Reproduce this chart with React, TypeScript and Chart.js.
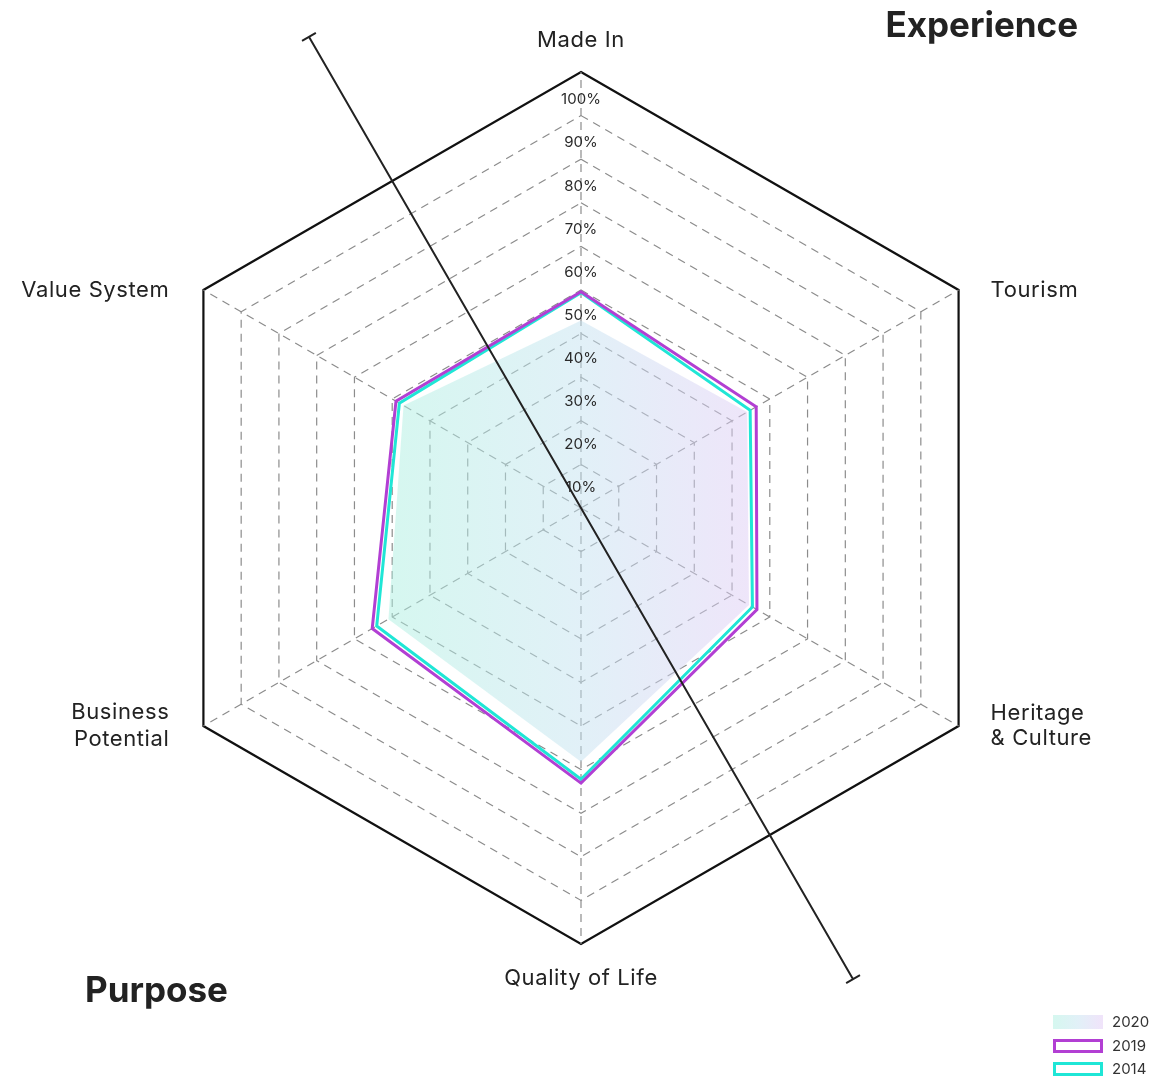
import { useEffect, useRef } from "react";
import { Chart, registerables } from "chart.js";

Chart.register(...registerables);

const categories: string[][] = [
  ["Made In"],
  ["Tourism"],
  ["Heritage", "& Culture"],
  ["Quality of Life"],
  ["Business", "Potential"],
  ["Value System"],
];
const values2020 = [43, 44, 44.5, 58.2, 51, 47];
const values2019 = [49.6, 46.4, 46.6, 63.1, 55.3, 49];
const values2014 = [49.4, 44.8, 45.4, 62.2, 54.1, 48.1];
const tickValues = [10, 20, 30, 40, 50, 60, 70, 80, 90, 100];
const seriesLabels = ["2020", "2019", "2014"];
const groupLabels = ["Experience", "Purpose"];

const FONT = "Inter, 'Noto Sans', sans-serif";
const PURPLE = "#b23fd3";
const CYAN = "#1fe6d6";

function makeFill(ctx: CanvasRenderingContext2D, x0: number, x1: number) {
  if (!Number.isFinite(x0) || !Number.isFinite(x1) || x0 === x1) {
    x0 = 380;
    x1 = 780;
  }
  const g = ctx.createLinearGradient(x0, 0, x1, 0);
  g.addColorStop(0, "rgba(172,240,224,0.5)");
  g.addColorStop(0.5, "rgba(196,226,240,0.5)");
  g.addColorStop(1, "rgba(226,200,245,0.5)");
  return g;
}

const overlayPlugin = {
  id: "overlay",
  afterDatasetsDraw(chart: any) {
    const scale = chart.scales.r;
    const ctx: any = chart.ctx;
    const cx = scale.xCenter;
    const cy = scale.yCenter;
    const R = scale.drawingArea;
    ctx.save();

    // tick labels
    ctx.font = `15px ${FONT}`;
    ctx.fillStyle = "#2a2a2a";
    ctx.textAlign = "center";
    ctx.textBaseline = "middle";
    tickValues.forEach((v) => {
      const d = scale.getDistanceFromCenterForValue(v);
      ctx.fillText(`${v}%`, cx, cy - d * 0.989 + 23);
    });

    // point labels
    ctx.font = `22px ${FONT}`;
    ctx.letterSpacing = "0.6px";
    ctx.fillStyle = "#222";
    categories.forEach((lines, i) => {
      const p = scale.getPointPosition(i, R);
      let x = p.x;
      let y = p.y;
      const dx = p.x - cx;
      if (Math.abs(dx) < 1) {
        ctx.textAlign = "center";
        y += p.y < cy ? -32 : 34;
      } else if (dx > 0) {
        ctx.textAlign = "left";
        x += 32;
      } else {
        ctx.textAlign = "right";
        x -= 34;
      }
      const lh = dx < -1 ? 27 : 25;
      lines.forEach((t, j) => {
        ctx.fillText(t, x, y + (j - (lines.length - 1) / 2) * lh);
      });
    });
    ctx.letterSpacing = "0px";

    // diagonal divider
    const half = R * 1.248;
    const ang = (-30 * Math.PI) / 180;
    const ux = Math.sin(ang);
    const uy = -Math.cos(ang);
    const x1 = cx + ux * half, y1 = cy + uy * half;
    const x2 = cx - ux * half, y2 = cy - uy * half;
    ctx.strokeStyle = "#222";
    ctx.lineWidth = 2;
    ctx.beginPath();
    ctx.moveTo(x1, y1);
    ctx.lineTo(x2, y2);
    const px = -uy, py = ux;
    const cap = 8;
    ctx.moveTo(x1 - px * cap, y1 - py * cap);
    ctx.lineTo(x1 + px * cap, y1 + py * cap);
    ctx.moveTo(x2 - px * cap, y2 - py * cap);
    ctx.lineTo(x2 + px * cap, y2 + py * cap);
    ctx.stroke();

    // group labels
    ctx.font = `bold 35px ${FONT}`;
    ctx.fillStyle = "#222";
    ctx.textAlign = "right";
    ctx.fillText(groupLabels[0], 1078, 26);
    ctx.textAlign = "left";
    ctx.fillText(groupLabels[1], 85, 991);

    // legend
    const lx = 1053, lw = 50, lhh = 14;
    const rows = [1022, 1046, 1069];
    ctx.font = `15px ${FONT}`;
    ctx.textBaseline = "middle";
    seriesLabels.forEach((lab, i) => {
      const ry = rows[i];
      if (i === 0) {
        ctx.fillStyle = makeFill(ctx, lx, lx + lw);
        ctx.fillRect(lx, ry - lhh / 2, lw, lhh);
      } else {
        ctx.strokeStyle = i === 1 ? PURPLE : CYAN;
        ctx.lineWidth = 3;
        ctx.strokeRect(lx + 1.5, ry - lhh / 2 + 1.5, lw - 3, lhh - 3);
      }
      ctx.fillStyle = "#333";
      ctx.textAlign = "left";
      ctx.fillText(lab, 1112, ry);
    });

    ctx.restore();
  },
};

export default function App() {
  const ref = useRef<HTMLCanvasElement | null>(null);

  useEffect(() => {
    if (!ref.current) return;
    const chart = new Chart(ref.current, {
      type: "radar",
      data: {
        labels: categories.map((c) => c.join(" ")),
        datasets: [
          {
            label: seriesLabels[0],
            data: values2020,
            fill: true,
            borderWidth: 0,
            borderColor: "rgba(0,0,0,0)",
            backgroundColor: (c: any) => {
              const s = c.chart.scales && c.chart.scales.r;
              const ctx2 = c.chart.ctx;
              if (!s || !Number.isFinite(s.xCenter) || !Number.isFinite(s.drawingArea)) {
                return makeFill(ctx2, 380, 780);
              }
              return makeFill(ctx2, s.xCenter - s.drawingArea * 0.45, s.xCenter + s.drawingArea * 0.45);
            },
            pointRadius: 0,
            order: 3,
          },
          {
            label: seriesLabels[1],
            data: values2019,
            fill: false,
            borderColor: PURPLE,
            borderWidth: 3,
            pointRadius: 0,
            order: 1,
          },
          {
            label: seriesLabels[2],
            data: values2014,
            fill: false,
            borderColor: CYAN,
            borderWidth: 3,
            pointRadius: 0,
            order: 2,
          },
        ],
      },
      options: {
        animation: false,
        responsive: false,
        maintainAspectRatio: false,
        layout: { padding: { left: 145, top: 72, right: 138, bottom: 135 } },
        elements: { line: { tension: 0, borderJoinStyle: "miter" } },
        plugins: { legend: { display: false }, tooltip: { enabled: false } },
        scales: {
          r: {
            min: 0,
            max: 100,
            ticks: { display: false, stepSize: 10 },
            pointLabels: { display: false },
            angleLines: { color: "#8c8c8c", lineWidth: 1.2, borderDash: [8, 6] },
            grid: {
              color: (c: any) => (c.index === 10 ? "#111" : "#8c8c8c"),
              lineWidth: (c: any) => (c.index === 10 ? 2.2 : 1.2),
            },
            border: {
              dash: (c: any) => (c.index === 10 ? [] : [8, 6]),
            },
          },
        },
      },
      plugins: [overlayPlugin],
    } as any);
    return () => chart.destroy();
  }, []);

  return (
    <div style={{ position: "fixed", left: 0, top: 0, width: 1155, height: 1079, background: "#fff" }}>
      <canvas ref={ref} width={1155} height={1079} style={{ display: "block", width: 1155, height: 1079 }} />
    </div>
  );
}
